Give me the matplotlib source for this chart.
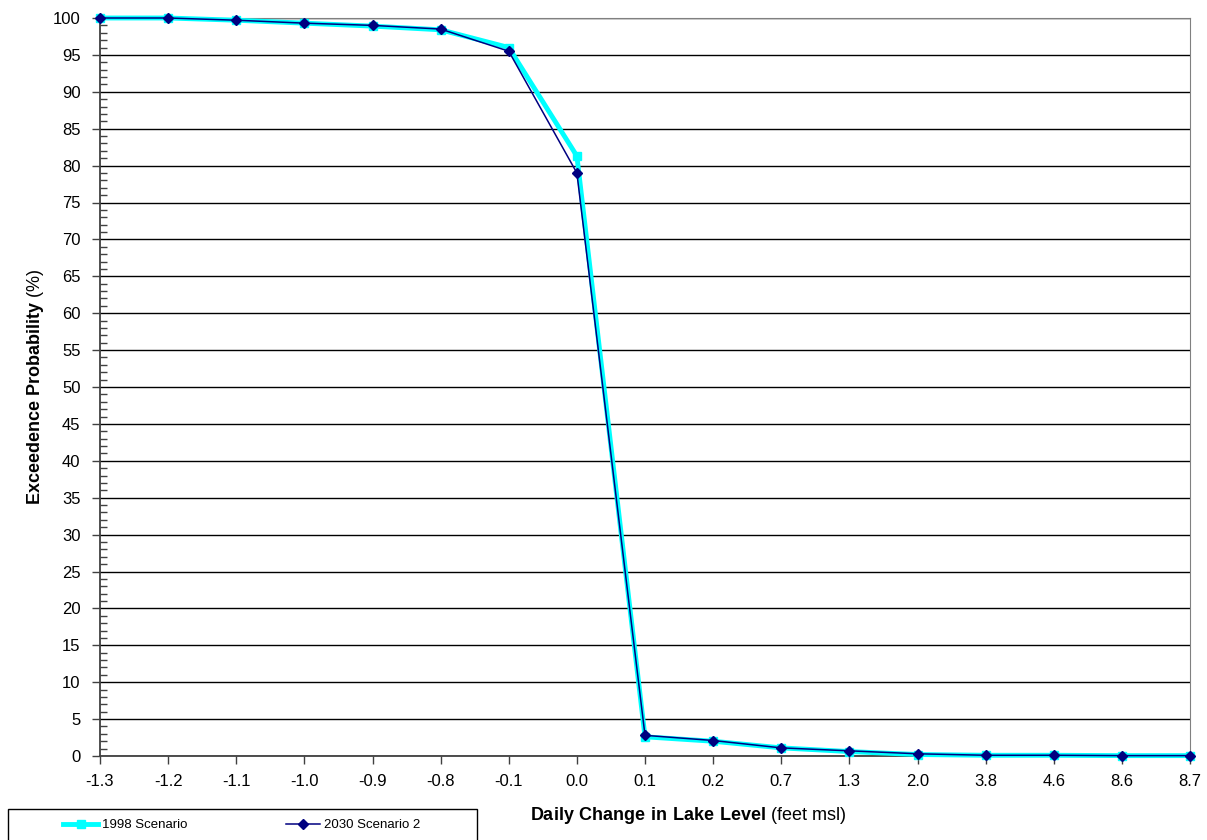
import matplotlib
matplotlib.use("Agg")
import matplotlib.pyplot as plt
from matplotlib.ticker import MultipleLocator
from matplotlib.patches import Rectangle

plt.rcParams['font.family'] = ['Liberation Sans', 'DejaVu Sans']
plt.rcParams['mathtext.fontset'] = 'custom'
plt.rcParams['mathtext.bf'] = 'Liberation Sans:bold'
plt.rcParams['mathtext.rm'] = 'Liberation Sans'

# categories on the x axis (daily change in lake level, feet msl)
cambios = ["-1.3", "-1.2", "-1.1", "-1.0", "-0.9", "-0.8", "-0.1", "0.0", "0.1",
           "0.2", "0.7", "1.3", "2.0", "3.8", "4.6", "8.6", "8.7"]
esc_1998 = [100, 100, 99.7, 99.3, 98.9, 98.4, 96.0, 81.3, 2.6, 2.0, 1.1, 0.6,
            0.2, 0.1, 0.1, 0.05, 0.05]
esc_2030 = [100, 100, 99.7, 99.3, 99.0, 98.5, 95.5, 79.0, 2.8, 2.1, 1.1, 0.7,
            0.3, 0.1, 0.1, 0.05, 0.05]

fig = plt.figure(figsize=(12.07, 8.4), dpi=100)
ax = fig.add_axes([100/1207, 84/840, 1090/1207, 738/840])

x = list(range(len(cambios)))
l1, = ax.plot(x, esc_1998, color="#00FFFF", lw=3.5, marker='s', markersize=6,
              label="1998 Scenario", zorder=3, clip_on=False)
l2, = ax.plot(x, esc_2030, color="#000080", lw=1.1, marker='D', markersize=5.5,
              label="2030 Scenario 2", zorder=4, clip_on=False)

ax.set_xlim(0, len(cambios) - 1)
ax.set_ylim(0, 100)
ax.set_xticks(x)
ax.set_xticklabels(cambios)
ax.yaxis.set_major_locator(MultipleLocator(5))
ax.yaxis.set_minor_locator(MultipleLocator(1))
ax.grid(axis='y', which='major', color='black', lw=1)
ax.set_axisbelow(True)
ax.tick_params(labelsize=12, direction='out', length=6, width=1, color='#404040')
ax.tick_params(axis='y', which='minor', direction='in', length=5, width=1, color='#404040')
ax.tick_params(axis='x', pad=7)
ax.tick_params(axis='y', pad=8)
for s in ['top', 'right']:
    ax.spines[s].set_color('#808080')
for s in ['left', 'bottom']:
    ax.spines[s].set_color('#404040')
    ax.spines[s].set_linewidth(1.3)

fig.text(688/1207, 1 - 815/840, r"$\bf{Daily\ Change\ in\ Lake\ Level}$ (feet msl)",
         ha='center', va='center', fontsize=13)
fig.text(36/1207, 1 - 387/840, r"$\bf{Exceedence\ Probability}$ (%)",
         ha='center', va='center', rotation=90, fontsize=13)

# legend box, cut off at the bottom of the figure
fig.patches.append(Rectangle((8/1207, -20/840), 469/1207, 51/840, transform=fig.transFigure,
                             fill=False, edgecolor='black', lw=1))
fig.legend(handles=[l1, l2], loc='center', bbox_to_anchor=(242/1207, 1 - 825/840),
           ncol=2, frameon=False, fontsize=9.5, handlelength=2.6, handletextpad=0.3,
           columnspacing=7.5, borderaxespad=0)

plt.savefig("out.png", dpi=100)
